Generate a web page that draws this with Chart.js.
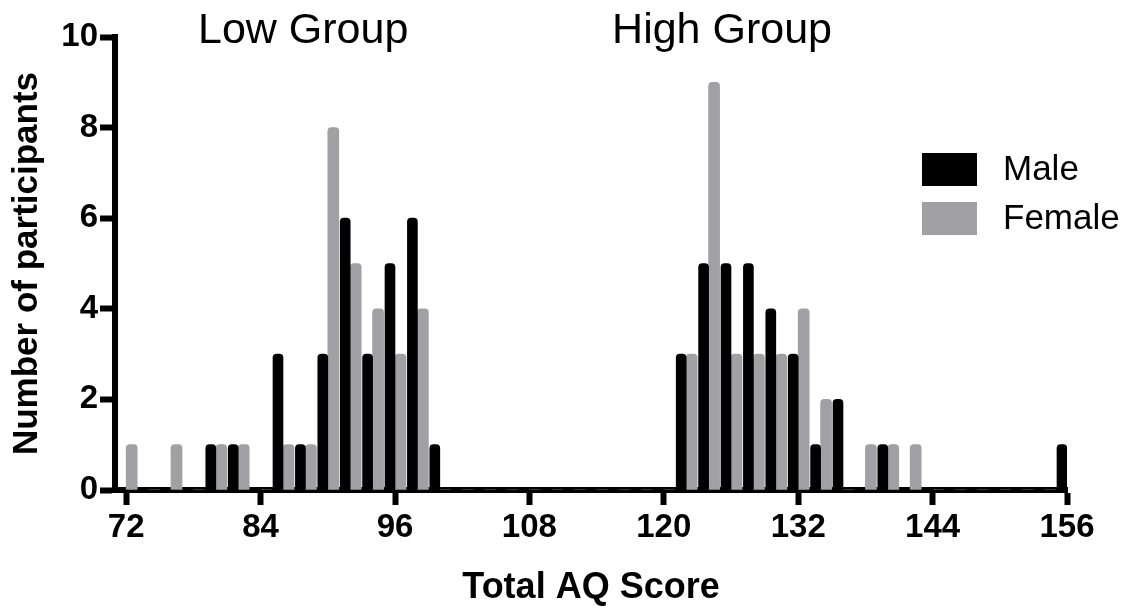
<!DOCTYPE html>
<html>
<head>
<meta charset="utf-8">
<script src="https://cdn.jsdelivr.net/npm/chart.js@4.4.1/dist/chart.umd.min.js"></script>
<style>
    html, body { margin: 0; padding: 0; background: #fff; }
    #wrap { width: 1129px; height: 610px; position: relative; }
</style>
</head>
<body>
<div id="wrap"><canvas id="aqChart"></canvas></div>
<script>
// Total AQ score bins (bin centre), counts per bin
const scores = [72, 74, 76, 78, 80, 82, 84, 86, 88, 90, 92, 94, 96, 98, 100,
    102, 104, 106, 108, 110, 112, 114, 116, 118, 120,
    122, 124, 126, 128, 130, 132, 134, 136, 138, 140, 142,
    144, 146, 148, 150, 152, 154, 156];
const maleCounts = [0, 0, 0, 0, 1, 1, 0, 3, 1, 3, 6, 3, 5, 6, 1,
    0, 0, 0, 0, 0, 0, 0, 0, 0, 0,
    3, 5, 5, 5, 4, 3, 1, 2, 0, 1, 0,
    0, 0, 0, 0, 0, 0, 1];
const femaleCounts = [1, 0, 1, 0, 1, 1, 0, 1, 1, 8, 5, 4, 3, 4, 0,
    0, 0, 0, 0, 0, 0, 0, 0, 0, 0,
    3, 9, 3, 3, 3, 4, 2, 0, 1, 1, 1,
    0, 0, 0, 0, 0, 0, 0];
const xTicks = [72, 84, 96, 108, 120, 132, 144, 156];
const groupLabels = ['Low Group', 'High Group'];
const groupCentres = [87.8, 125.2];

const FONT = '"Liberation Sans", Arial, Helvetica, sans-serif';
const GREY = '#a0a0a5';

document.addEventListener('DOMContentLoaded', function() {
    initializeChart();
});

// group captions above the plot + the legend at the right
const extrasPlugin = {
    id: 'extras',
    afterDraw(chart) {
        const ctx = chart.ctx;
        const x = chart.scales.x;
        ctx.save();
        ctx.fillStyle = '#000';
        ctx.font = '43px ' + FONT;
        ctx.textAlign = 'center';
        ctx.textBaseline = 'alphabetic';
        groupLabels.forEach((txt, i) => {
            ctx.fillText(txt, x.getPixelForValue(groupCentres[i]), 43);
        });

        const items = chart.data.datasets.map(ds => ({ label: ds.label, color: ds.backgroundColor }));
        ctx.font = '35px ' + FONT;
        ctx.textAlign = 'left';
        items.forEach((it, i) => {
            const top = 153 + i * 49;
            ctx.fillStyle = it.color;
            ctx.fillRect(922, top, 55, 33);
            ctx.fillStyle = '#000';
            ctx.fillText(it.label, 1003, top + 27);
        });
        ctx.restore();
    }
};

function initializeChart() {
    const ctx = document.getElementById('aqChart');

    new Chart(ctx, {
        type: 'bar',
        data: {
            datasets: [
                {
                    label: 'Male',
                    data: scores.map((s, i) => ({ x: s, y: maleCounts[i] })),
                    backgroundColor: '#000',
                    barThickness: 10,
                    borderRadius: { topLeft: 4, topRight: 4 },
                    borderSkipped: 'start'
                },
                {
                    label: 'Female',
                    data: scores.map((s, i) => ({ x: s, y: femaleCounts[i] })),
                    backgroundColor: GREY,
                    barThickness: 11,
                    borderRadius: { topLeft: 4, topRight: 4 },
                    borderSkipped: 'start'
                }
            ]
        },
        options: {
            responsive: true,
            maintainAspectRatio: false,
            animation: false,
            layout: { padding: { top: 37, right: 62, bottom: 0, left: 0 } },
            plugins: {
                legend: { display: false },
                tooltip: { enabled: false }
            },
            scales: {
                x: {
                    type: 'linear',
                    min: 71,
                    max: 156,
                    offset: false,
                    afterBuildTicks: function(scale) {
                        scale.ticks = xTicks.map(v => ({ value: v }));
                    },
                    afterFit: function(scale) { scale.height = 120; },
                    grid: {
                        offset: false,
                        drawOnChartArea: false,
                        tickLength: 15,
                        tickWidth: 6,
                        tickColor: '#000'
                    },
                    border: { display: true, width: 6, color: '#000' },
                    ticks: {
                        autoSkip: false,
                        maxRotation: 0,
                        padding: 3,
                        color: '#000',
                        font: { family: FONT, size: 33, weight: 'bold' }
                    },
                    title: {
                        display: true,
                        text: 'Total AQ Score',
                        color: '#000',
                        font: { family: FONT, size: 36, weight: 'bold' },
                        padding: { top: 0, bottom: 0 }
                    }
                },
                y: {
                    min: 0,
                    max: 10,
                    afterFit: function(scale) { scale.width = 115; },
                    grid: {
                        drawOnChartArea: false,
                        tickLength: 15,
                        tickWidth: 6,
                        tickColor: '#000'
                    },
                    border: { display: true, width: 6, color: '#000' },
                    ticks: {
                        stepSize: 2,
                        padding: 2,
                        color: '#000',
                        font: { family: FONT, size: 33, weight: 'bold' }
                    },
                    title: {
                        display: true,
                        text: 'Number of participants',
                        color: '#000',
                        font: { family: FONT, size: 35, weight: 'bold' },
                        padding: { top: 6, bottom: 0 }
                    }
                }
            }
        },
        plugins: [extrasPlugin]
    });
}
</script>
</body>
</html>
